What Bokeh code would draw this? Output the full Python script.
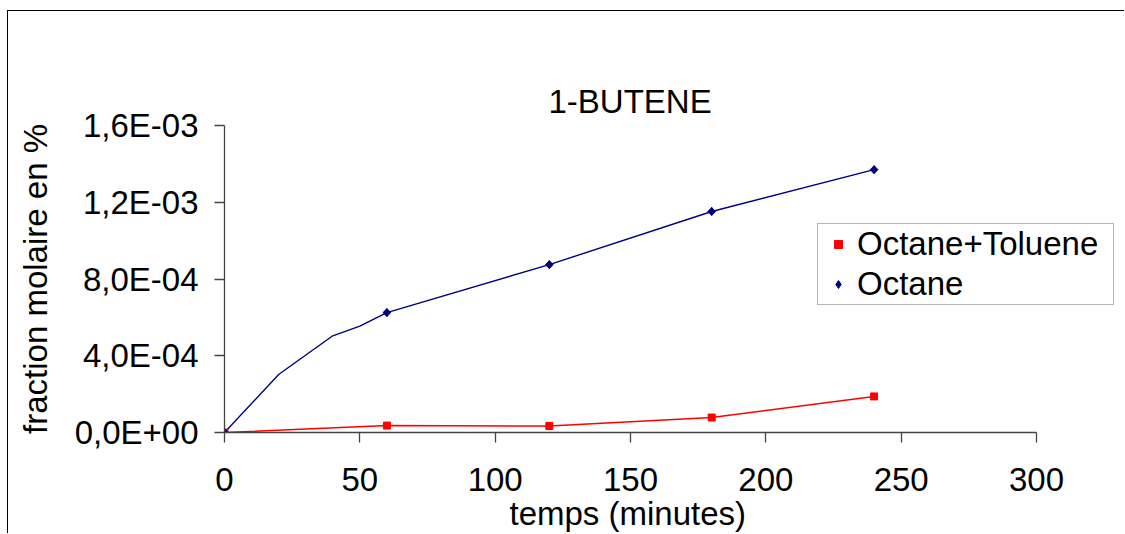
import math
from bokeh.plotting import figure
from bokeh.models import Legend, LegendItem, FixedTicker, Range1d, Title
from bokeh.embed import file_html
from bokeh.resources import INLINE

title_text = "1-BUTENE"
x_label = "temps (minutes)"
y_label = "fraction molaire en %"

tol_name = "Octane+Toluene"
tol_t = [0, 60, 120, 180, 240]
tol_y = [0.0, 3.6e-5, 3.4e-5, 7.8e-5, 1.88e-4]

oct_name = "Octane"
oct_t = [0, 20, 40, 50, 60, 120, 180, 240]
oct_y = [0.0, 3.02e-4, 5.04e-4, 5.54e-4, 6.25e-4, 8.75e-4, 1.152e-3, 1.37e-3]
oct_marked = [True, False, False, False, True, True, True, True]

x_ticks = [0, 50, 100, 150, 200, 250, 300]
y_ticks = [0.0, 4e-4, 8e-4, 1.2e-3, 1.6e-3]
y_tick_labels = ["0,0E+00", "4,0E-04", "8,0E-04", "1,2E-03", "1,6E-03"]

FONT = "Liberation Sans"
FS = "33px"
AXIS_COL = "#444444"

# page layout (pixels)
OX, OY = 8, 11            # canvas origin on the page
W, H = 1117, 523
FL, FB = 224, 432         # frame left / bottom (x=0, y=0)
X300, Y_TOP = 1036, 125   # where x=300 and y=1.6e-3 sit
FR = 1122                 # frame right (extended so the legend is not clipped)

xs = (X300 - FL) / 300.0
x_end = (FR - FL) / xs

p = figure(width=W, height=H, output_backend="svg", toolbar_location=None,
           x_range=Range1d(0, x_end), y_range=Range1d(0, 1.6e-3),
           min_border_left=FL - OX, min_border_right=OX + W - FR,
           min_border_top=Y_TOP - OY, min_border_bottom=OY + H - FB)
p.styles = {"border-top": "1px solid #000000", "border-left": "1px solid #000000",
            "margin-top": "10px", "margin-left": "7px"}
p.outline_line_color = None
p.background_fill_color = "white"
p.border_fill_color = "white"
p.xgrid.visible = False
p.ygrid.visible = False

p.title.text = title_text
p.title.align = "left"
p.title.offset = 548 - FL
p.title.text_font = FONT
p.title.text_font_size = FS
p.title.text_font_style = "normal"
p.title.text_color = "black"
p.title.standoff = 11

for ax in (p.xaxis[0], p.yaxis[0]):
    ax.axis_line_color = AXIS_COL
    ax.axis_line_width = 1.3
    ax.major_tick_line_color = AXIS_COL
    ax.major_tick_line_width = 1.3
    ax.major_tick_in = 0
    ax.major_tick_out = 10
    ax.minor_tick_line_color = None
    ax.major_label_text_font = FONT
    ax.major_label_text_font_size = FS
    ax.major_label_text_color = "black"
    ax.axis_label_text_font = FONT
    ax.axis_label_text_font_size = FS
    ax.axis_label_text_font_style = "normal"
    ax.axis_label_text_color = "black"

p.xaxis.ticker = FixedTicker(ticks=x_ticks)
p.yaxis.ticker = FixedTicker(ticks=y_ticks)
p.xaxis.bounds = (0, 300)
p.yaxis.major_label_overrides = dict(zip(y_ticks, y_tick_labels))
p.yaxis.axis_label = y_label
p.xaxis.major_label_standoff = 25
p.yaxis.major_label_standoff = 16
p.yaxis.axis_label_standoff = 18

# x-axis title placed under the axis, aligned over the 0..300 span
xt = Title(text=x_label, align="left", offset=510 - FL - 1, standoff=-1,
           text_font=FONT, text_font_size=FS, text_font_style="normal",
           text_color="black")
p.add_layout(xt, "below")

RED = "#FF0000"
NAVY = "#000080"

p.line(oct_t, oct_y, line_color=NAVY, line_width=1.4)
p.line(tol_t, tol_y, line_color=RED, line_width=1.5)
tol_pts = p.scatter(tol_t, tol_y, marker="square", size=7, fill_color=RED, line_color=RED)
mk_t = [t for t, m in zip(oct_t, oct_marked) if m]
mk_y = [y for y, m in zip(oct_y, oct_marked) if m]
oct_leg = p.scatter(mk_t, mk_y, marker="diamond", size=8,
                    fill_color=NAVY, line_color=NAVY)
p.scatter(mk_t, mk_y, marker="square", angle=math.pi / 4, size=5.5,
          fill_color=NAVY, line_color=NAVY)

legend = Legend(items=[LegendItem(label=tol_name, renderers=[tol_pts]),
                       LegendItem(label=oct_name, renderers=[oct_leg])],
                location=(817 - FL, FB - 305))
legend.label_text_font = FONT
legend.label_text_font_size = FS
legend.label_text_color = "black"
legend.border_line_color = "#6e6e6e"
legend.border_line_width = 1.5
legend.background_fill_color = "white"
legend.background_fill_alpha = 1
legend.padding = 1
legend.margin = 0
legend.spacing = 2
legend.glyph_width = 38
legend.label_standoff = 0
legend.label_width = 255
p.add_layout(legend, "center")

open("out.html", "w").write(file_html(p, INLINE))
